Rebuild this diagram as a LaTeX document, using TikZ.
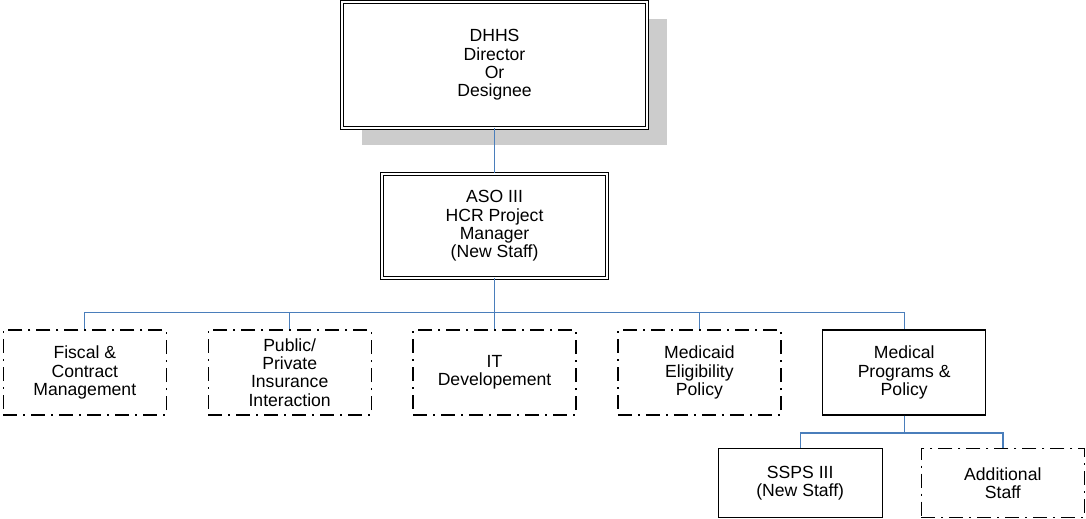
\documentclass[tikz,border=0pt]{standalone}
\usepackage{fontspec}
\setmainfont{Liberation Sans}
\usepackage{tikz}
\usetikzlibrary{positioning,calc,shadows}
\definecolor{linkblue}{RGB}{74,126,187}

\begin{document}
\begin{tikzpicture}[
    node distance=30.5pt,
    font=\fontsize{13.2pt}{13.7pt}\selectfont,
    unit/.style={draw, align=center, inner sep=0pt, line width=0.8pt,
        minimum width=122.25pt, minimum height=63.75pt, fill=white},
    vacant/.style={unit, line width=0.9pt,
        dash pattern=on 10.5pt off 4.5pt on 1.5pt off 4.5pt},
    head/.style={draw, align=center, inner sep=0pt, line width=0.7pt,
        double, double distance=1.4pt, fill=white},
    link/.style={draw=linkblue, line width=1pt}
]
\useasboundingbox (0,0) rectangle (814.5pt,-388.5pt);

\node[head, minimum width=228.75pt, minimum height=94.5pt,
    drop shadow={shadow xshift=15pt, shadow yshift=-12.6pt, fill=black!20, opacity=1}]
    (dir) at (370.9pt,-48.75pt) {DHHS\\Director\\Or\\Designee};
\node[head, minimum width=168.75pt, minimum height=78pt, below=33.75pt of dir]
    (aso) {ASO III\\HCR Project\\Manager\\(New Staff)};

\node[vacant, below=38.25pt of aso] (it)       {IT\\Developement};
\node[vacant, left=of it]           (ins)      {Public/\\Private\\Insurance\\Interaction};
\node[vacant, left=of ins]          (fiscal)   {Fiscal \&\\Contract\\Management};
\node[vacant, right=of it]          (medicaid) {Medicaid\\Eligibility\\Policy};
\node[unit, right=of medicaid]      (medical)  {Medical\\Programs \&\\Policy};

\node[unit, minimum width=123pt, minimum height=51.75pt,
    below=24.5pt of medical, xshift=-78pt] (ssps) {SSPS III\\(New Staff)};
\node[vacant, minimum height=51.75pt, right=28.5pt of ssps] (extra) {Additional\\Staff};

\draw[link] (dir) -- (aso);
\foreach \kid in {fiscal,ins,it,medicaid,medical}
    \draw[link] (aso.south) -- ++(0,-25.5pt) -| (\kid.north);
\foreach \kid in {ssps,extra}
    \draw[link] (medical.south) -- ++(0,-13pt) -| (\kid.north);
\end{tikzpicture}
\end{document}
